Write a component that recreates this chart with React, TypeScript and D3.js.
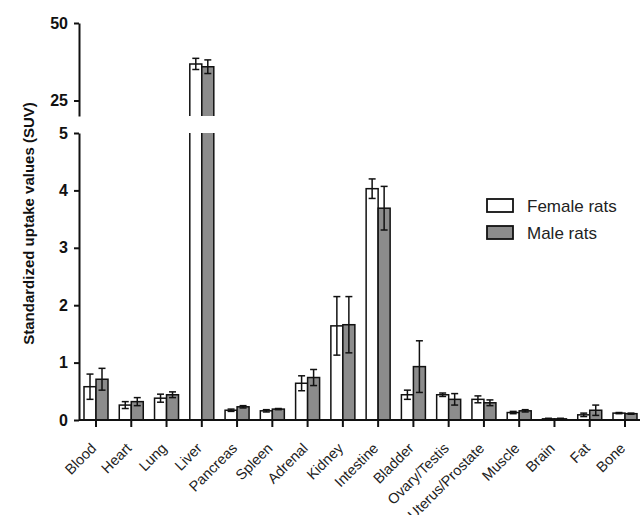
import React, { useEffect, useRef } from 'react';
import * as d3 from 'd3';

// organ list and SUV values (mean, SD)
const organs = ['Blood', 'Heart', 'Lung', 'Liver', 'Pancreas', 'Spleen', 'Adrenal', 'Kidney', 'Intestine',
  'Bladder', 'Ovary/Testis', 'Uterus/Prostate', 'Muscle', 'Brain', 'Fat', 'Bone'];
const femaleMean = [0.58, 0.26, 0.38, 36.8, 0.17, 0.16, 0.64, 1.64, 4.03, 0.44, 0.44, 0.36, 0.13, 0.02, 0.09, 0.12];
const femaleSd = [0.22, 0.06, 0.07, 1.8, 0.02, 0.02, 0.13, 0.51, 0.17, 0.08, 0.03, 0.06, 0.02, 0.01, 0.03, 0.01];
const maleMean = [0.71, 0.32, 0.44, 35.9, 0.23, 0.19, 0.74, 1.66, 3.69, 0.93, 0.36, 0.3, 0.16, 0.02, 0.17, 0.11];
const maleSd = [0.19, 0.07, 0.05, 2.2, 0.02, 0.01, 0.14, 0.49, 0.38, 0.45, 0.1, 0.05, 0.02, 0.01, 0.09, 0.01];
const lowerTicks = [0, 1, 2, 3, 4, 5];
const upperTicks = [25, 50];
const seriesNames = ['Female rats', 'Male rats'];
const seriesFill = ['#ffffff', '#8c8c8c'];

const W = 642;
const H = 515;
const axisX = 79;
const barW = 12;
const font = 'Liberation Sans, Arial, sans-serif';

export default function App() {
  const lowRef = useRef<SVGGElement>(null);
  const upRef = useRef<SVGGElement>(null);

  const x = d3.scalePoint<string>().domain(organs).range([96, 625]);
  const yLow = d3.scaleLinear().domain([0, 5]).range([420, 133]);
  const yUp = d3.scaleLinear().domain([20, 50]).range([116, 23]);

  useEffect(() => {
    const style = (g: d3.Selection<SVGGElement, unknown, null, undefined>) => {
      g.select('.domain').attr('stroke', '#111').attr('stroke-width', 2);
      g.selectAll('.tick line').attr('stroke', '#111').attr('stroke-width', 2);
      g.selectAll('.tick text')
        .attr('font-family', font)
        .attr('font-weight', 'bold')
        .attr('font-size', 16)
        .attr('fill', '#111');
    };
    const lg = d3.select(lowRef.current!);
    lg.selectAll('*').remove();
    lg.call(d3.axisLeft(yLow).tickValues(lowerTicks).tickFormat(d3.format('d')).tickSize(5).tickSizeOuter(0).tickPadding(6));
    style(lg);
    const ug = d3.select(upRef.current!);
    ug.selectAll('*').remove();
    ug.call(d3.axisLeft(yUp).tickValues(upperTicks).tickFormat(d3.format('d')).tickSize(5).tickSizeOuter(0).tickPadding(6));
    style(ug);
  }, []);

  // bars above 5 are broken: lower piece has no top edge, upper piece no bottom edge
  const bar = (i: number, s: number) => {
    const mean = s === 0 ? femaleMean[i] : maleMean[i];
    const sd = s === 0 ? femaleSd[i] : maleSd[i];
    const bx = (x(organs[i]) as number) + (s === 0 ? -barW : 0);
    const cx = bx + barW / 2;
    const fill = seriesFill[s];
    const parts: React.ReactNode[] = [];
    let yHi: number, yLo: number;
    if (mean > 5) {
      const lt = yLow(5), lb = yLow(0), ut = yUp(mean), ub = yUp(20);
      parts.push(<rect key="lf" x={bx} y={lt} width={barW} height={lb - lt} fill={fill} />);
      parts.push(<path key="ls" d={`M${bx},${lt}V${lb}H${bx + barW}V${lt}`} fill="none" stroke="#111" strokeWidth={1.5} />);
      parts.push(<rect key="uf" x={bx} y={ut} width={barW} height={ub - ut} fill={fill} />);
      parts.push(<path key="us" d={`M${bx},${ub}V${ut}H${bx + barW}V${ub}`} fill="none" stroke="#111" strokeWidth={1.5} />);
      yHi = yUp(mean + sd); yLo = yUp(mean - sd);
    } else {
      parts.push(<rect key="b" x={bx} y={yLow(mean)} width={barW} height={yLow(0) - yLow(mean)} fill={fill} stroke="#111" strokeWidth={1.5} />);
      yHi = yLow(mean + sd); yLo = yLow(Math.max(0, mean - sd));
    }
    parts.push(
      <g key="e" stroke="#111" strokeWidth={1.5}>
        <line x1={cx} x2={cx} y1={yHi} y2={yLo} />
        <line x1={cx - 3.5} x2={cx + 3.5} y1={yHi} y2={yHi} />
        <line x1={cx - 3.5} x2={cx + 3.5} y1={yLo} y2={yLo} />
      </g>
    );
    return <g key={`${i}-${s}`}>{parts}</g>;
  };

  return (
    <svg width={W} height={H} style={{ position: 'absolute', left: 0, top: 0, background: '#fff' }}>
      {organs.map((_, i) => [bar(i, 0), bar(i, 1)])}
      {/* x axis */}
      <line x1={axisX} x2={640} y1={yLow(0)} y2={yLow(0)} stroke="#111" strokeWidth={2} />
      {organs.map((o) => (
        <line key={o} x1={x(o)} x2={x(o)} y1={yLow(0)} y2={yLow(0) + 7} stroke="#111" strokeWidth={2} />
      ))}
      {organs.map((o) => (
        <text key={o} transform={`translate(${(x(o) as number) - 6},${yLow(0) + 22}) rotate(-45)`}
          textAnchor="end" dy="0.7em" fontFamily={font} fontSize={14.5} fill="#222">{o}</text>
      ))}
      <g ref={lowRef} transform={`translate(${axisX},0)`} />
      <g ref={upRef} transform={`translate(${axisX},0)`} />
      <text transform={`translate(34,${(yLow(0) + yUp(50)) / 2 + 2}) rotate(-90)`} textAnchor="middle"
        fontFamily={font} fontWeight="bold" fontSize={15} fill="#111">Standardized uptake values (SUV)</text>
      {/* legend */}
      {seriesNames.map((n, s) => (
        <g key={n} transform={`translate(487,${199 + s * 27})`}>
          <rect x={0} y={0} width={26} height={13} fill={seriesFill[s]} stroke="#111" strokeWidth={1.8} />
          <text x={40} y={13} fontFamily={font} fontSize={17} fill="#222">{n}</text>
        </g>
      ))}
    </svg>
  );
}
